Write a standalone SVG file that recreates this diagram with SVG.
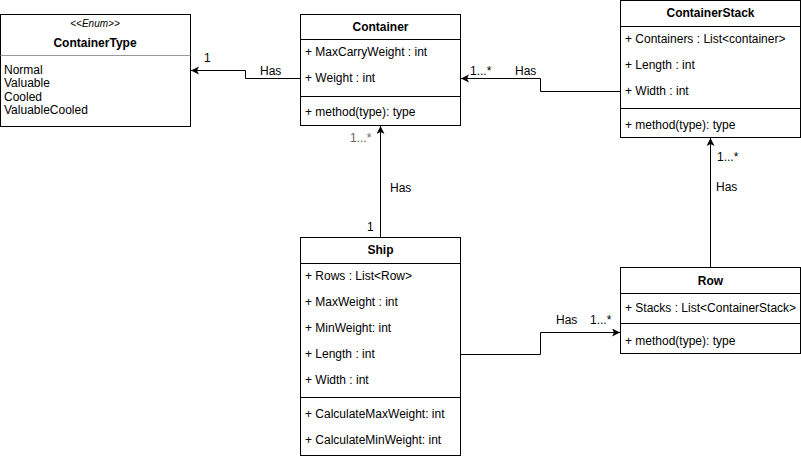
<svg xmlns="http://www.w3.org/2000/svg" width="801" height="457" viewBox="0 0 801 457">
<defs>
<style>
.box{fill:#fff;stroke:#000;stroke-width:1}
.ln{stroke:#000;stroke-width:1;fill:none}
.t{font-family:"Liberation Sans",Arial,sans-serif;font-size:12px;fill:#000}
.b{font-weight:bold;text-anchor:middle}
.lbl{font-family:"Liberation Sans",Arial,sans-serif;font-size:12px;fill:#000}
.edge{stroke:#000;stroke-width:1;fill:none;marker-end:url(#arr)}
</style>
<marker id="arr" markerWidth="10" markerHeight="10" refX="8" refY="4" orient="auto" markerUnits="userSpaceOnUse">
<path d="M0,0 L8,4 L0,8 L2,4 Z" fill="#000"/>
</marker>
</defs>
<rect width="801" height="457" fill="#fff"/>

<g id="ContainerType">
<rect class="box" x="0.5" y="14.5" width="190" height="112"/>
<text class="t" x="95" y="27" text-anchor="middle" font-style="italic" style="font-size:10px">&lt;&lt;Enum&gt;&gt;</text>
<text class="t b" x="95" y="47">ContainerType</text>
<line x1="0.5" y1="55.5" x2="190.5" y2="55.5" stroke="#999" stroke-width="1"/>
<text class="t" x="4" y="74">Normal</text>
<text class="t" x="4" y="87">Valuable</text>
<text class="t" x="4" y="101">Cooled</text>
<text class="t" x="4" y="114">ValuableCooled</text>
</g>

<g id="Container">
<rect class="box" x="300.5" y="14.5" width="160" height="111"/>
<text class="t b" x="380.5" y="31">Container</text>
<line class="ln" x1="300.5" y1="39.5" x2="460.5" y2="39.5"/>
<text class="t" x="305" y="56">+ MaxCarryWeight : int</text>
<text class="t" x="305" y="82">+ Weight : int</text>
<line class="ln" x1="300.5" y1="96.5" x2="460.5" y2="96.5"/>
<text class="t" x="305" y="116">+ method(type): type</text>
</g>

<g id="ContainerStack">
<rect class="box" x="620.5" y="0.5" width="180" height="137"/>
<text class="t b" x="710.5" y="17">ContainerStack</text>
<line class="ln" x1="620.5" y1="26.5" x2="800.5" y2="26.5"/>
<text class="t" x="625" y="43">+ Containers : List&lt;container&gt;</text>
<text class="t" x="625" y="69">+ Length : int</text>
<text class="t" x="625" y="95">+ Width : int</text>
<line class="ln" x1="620.5" y1="108.5" x2="800.5" y2="108.5"/>
<text class="t" x="625" y="129">+ method(type): type</text>
</g>

<g id="Ship">
<rect class="box" x="300.5" y="237.5" width="160" height="218"/>
<text class="t b" x="380.5" y="254">Ship</text>
<line class="ln" x1="300.5" y1="263.5" x2="460.5" y2="263.5"/>
<text class="t" x="305" y="280">+ Rows : List&lt;Row&gt;</text>
<text class="t" x="305" y="306">+ MaxWeight : int</text>
<text class="t" x="305" y="332">+ MinWeight: int</text>
<text class="t" x="305" y="358">+ Length : int</text>
<text class="t" x="305" y="384">+ Width : int</text>
<line class="ln" x1="300.5" y1="397.5" x2="460.5" y2="397.5"/>
<text class="t" x="305" y="418">+ CalculateMaxWeight: int</text>
<text class="t" x="305" y="444">+ CalculateMinWeight: int</text>
</g>

<g id="Row">
<rect class="box" x="620.5" y="267.5" width="180" height="86"/>
<text class="t b" x="710.5" y="285">Row</text>
<line class="ln" x1="620.5" y1="293.5" x2="800.5" y2="293.5"/>
<text class="t" x="625" y="312">+ Stacks : List&lt;ContainerStack&gt;</text>
<line class="ln" x1="620.5" y1="323.5" x2="800.5" y2="323.5"/>
<text class="t" x="625" y="345">+ method(type): type</text>
</g>

<g id="connectors">
<polyline class="edge" points="300.5,78.5 245.5,78.5 245.5,70.5 191,70.5"/>
<polyline class="edge" points="620.5,91.5 540.5,91.5 540.5,78.5 461,78.5"/>
<polyline class="edge" points="380.5,237.5 380.5,126"/>
<polyline class="edge" points="460.5,354.5 540.5,354.5 540.5,332.5 620,332.5"/>
<polyline class="edge" points="710.5,267.5 710.5,138"/>
</g>

<g id="labels">
<text class="lbl" x="204" y="62">1</text>
<text class="lbl" x="260" y="75">Has</text>
<text class="lbl" x="470" y="75">1...*</text>
<text class="lbl" x="515" y="75">Has</text>
<text class="lbl" x="350" y="142" style="fill:#666">1...*</text>
<text class="lbl" x="390" y="192">Has</text>
<text class="lbl" x="367" y="231">1</text>
<text class="lbl" x="556" y="324">Has</text>
<text class="lbl" x="590" y="324">1...*</text>
<text class="lbl" x="717" y="161">1...*</text>
<text class="lbl" x="716" y="191">Has</text>
</g>
</svg>
